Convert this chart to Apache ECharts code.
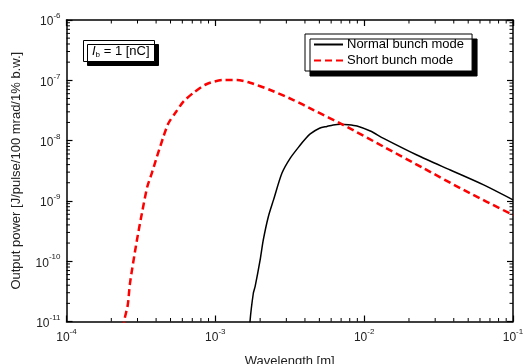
<!DOCTYPE html>
<html>
<head>
<meta charset="utf-8">
<script src="https://cdn.jsdelivr.net/npm/echarts@6/dist/echarts.min.js"></script>
<style>
  html, body { margin: 0; padding: 0; background: #fff; }
  #main { width: 524px; height: 364px; }
</style>
</head>
<body>
<div id="main"></div>
<script>
// wavelength [m] / output power
const normalX = [1.70e-3, 1.71e-3, 1.80e-3, 1.85e-3, 2.00e-3, 2.10e-3, 2.27e-3, 2.46e-3, 2.80e-3, 3.18e-3, 3.72e-3, 4.02e-3, 4.34e-3, 5.01e-3, 5.62e-3, 6.19e-3, 6.91e-3, 7.82e-3, 8.95e-3, 1.10e-2, 1.35e-2, 2.26e-2, 3.79e-2, 6.35e-2, 0.1]
const normalY = [5e-12, 1.0e-11, 2.94e-11, 3.78e-11, 1.05e-10, 2.25e-10, 5.47e-10, 1.04e-9, 2.87e-9, 5.08e-9, 8.45e-9, 1.06e-8, 1.29e-8, 1.60e-8, 1.72e-8, 1.82e-8, 1.87e-8, 1.84e-8, 1.75e-8, 1.44e-8, 1.09e-8, 5.77e-9, 3.25e-9, 1.84e-9, 1.04e-9]

const shortX = [2.40e-4, 2.44e-4, 2.58e-4, 2.67e-4, 2.96e-4, 3.21e-4, 3.49e-4, 3.74e-4, 4.05e-4, 4.48e-4, 4.84e-4, 5.45e-4, 6.10e-4, 7.13e-4, 8.77e-4, 1.13e-3, 1.40e-3, 1.71e-3, 2.34e-3, 3.35e-3, 4.57e-3, 7.27e-3, 1.35e-2, 2.51e-2, 4.66e-2, 0.1]
const shortY = [5e-12, 1.0e-11, 1.88e-11, 4.3e-11, 2.1e-10, 6.2e-10, 1.72e-9, 2.87e-9, 5.4e-9, 1.16e-8, 1.94e-8, 3.01e-8, 4.42e-8, 6.22e-8, 8.69e-8, 1.01e-7, 1.01e-7, 9.12e-8, 6.90e-8, 4.71e-8, 3.21e-8, 1.81e-8, 7.93e-9, 3.47e-9, 1.52e-9, 5.83e-10]

const xDecades = [-4, -3, -2, -1]
const yDecades = [-11, -10, -9, -8, -7, -6]

// minor tick positions (2..9 x 10^n) inside each decade
const minorX = []
xDecades.slice(0, -1).forEach((d) => {
  for (let m = 2; m < 10; m++) minorX.push([m * Math.pow(10, d), 1e-11])
})
const minorY = []
yDecades.slice(0, -1).forEach((d) => {
  for (let m = 2; m < 10; m++) minorY.push([1e-4, m * Math.pow(10, d)])
})

const FONT = 'Liberation Sans'
const black = '#000'

function powLabel(v) {
  return '{b|10}{s|' + Math.round(Math.log10(v)) + '}'
}
const labelRich = {
  b: { fontFamily: FONT, fontSize: 12, color: '#222', lineHeight: 16, verticalAlign: 'bottom' },
  s: { fontFamily: FONT, fontSize: 8, color: '#222', lineHeight: 16, verticalAlign: 'top', padding: [0, 0, 6, 0] },
}

function logAxis(extra) {
  return Object.assign({
    type: 'log',
    logBase: 10,
    axisLine: { show: true, onZero: false, lineStyle: { color: black, width: 1.5 } },
    axisTick: { show: true, inside: true, length: 6, lineStyle: { color: black, width: 1.2 } },
    splitLine: { show: false },
    minorTick: { show: false },
  }, extra)
}

const chart = echarts.init(document.getElementById('main'), null, { renderer: 'canvas' })

chart.setOption({
  animation: false,
  backgroundColor: '#fff',
  grid: { left: 66.5, right: 11, top: 20, bottom: 42.5, containLabel: false, outerBoundsMode: 'none' },
  title: {
    text: '{i|I}{sub|b}{t| = 1 [nC]}',
    left: 83,
    top: 40,
    padding: [3, 5, 3, 9],
    borderColor: black,
    borderWidth: 1,
    backgroundColor: '#fff',
    shadowColor: black,
    shadowBlur: 0,
    shadowOffsetX: 4,
    shadowOffsetY: 4,
    textStyle: {
      fontWeight: 'normal',
      rich: {
        i: { fontFamily: FONT, fontSize: 13, fontStyle: 'italic', fontWeight: 'normal', color: black, lineHeight: 16 },
        sub: { fontFamily: FONT, fontSize: 8, fontWeight: 'normal', color: black, lineHeight: 16, verticalAlign: 'bottom', padding: [8, 0, 0, 0] },
        t: { fontFamily: FONT, fontSize: 13, fontWeight: 'normal', color: black, lineHeight: 16 },
      },
    },
  },
  legend: {
    orient: 'vertical',
    left: 305,
    top: 34,
    padding: [4, 8, 4, 8],
    itemGap: 3,
    itemWidth: 29,
    itemHeight: 14,
    borderColor: black,
    borderWidth: 1,
    backgroundColor: '#fff',
    shadowColor: black,
    shadowBlur: 0,
    shadowOffsetX: 5,
    shadowOffsetY: 5,
    itemStyle: { opacity: 0 },
    textStyle: { fontFamily: FONT, fontSize: 13, color: black, padding: [0, 0, 0, -1] },
    data: ['Normal bunch mode', 'Short bunch mode'],
  },
  xAxis: [
    logAxis({
      position: 'bottom',
      min: 1e-4,
      max: 1e-1,
      name: 'Wavelength [m]',
      nameLocation: 'middle',
      nameGap: 33,
      nameTextStyle: { fontFamily: FONT, fontSize: 13, color: '#222' },
      axisLabel: { margin: 6, formatter: powLabel, rich: labelRich },
    }),
    logAxis({
      position: 'top',
      min: 1e-4,
      max: 1e-1,
      axisLabel: { show: false },
    }),
  ],
  yAxis: [
    logAxis({
      position: 'left',
      min: 1e-11,
      max: 1e-6,
      name: 'Output power [J/pulse/100 mrad/1% b.w.]',
      nameLocation: 'middle',
      nameGap: 44,
      nameTextStyle: { fontFamily: FONT, fontSize: 13, color: '#222' },
      axisLabel: { margin: 6, formatter: powLabel, rich: labelRich },
    }),
    logAxis({
      position: 'right',
      min: 1e-11,
      max: 1e-6,
      axisLabel: { show: false },
    }),
  ],
  series: [
    {
      name: 'Normal bunch mode',
      type: 'line',
      symbol: 'none',
      smooth: 0.25,
      clip: true,
      color: black,
      lineStyle: { color: black, width: 1.5 },
      data: normalX.map((x, i) => [x, normalY[i]]),
    },
    {
      name: 'Short bunch mode',
      type: 'line',
      symbol: 'none',
      smooth: 0.25,
      clip: true,
      color: '#ff0000',
      lineStyle: { color: '#ff0000', width: 2.5, type: [7, 4] },
      data: shortX.map((x, i) => [x, shortY[i]]),
    },
    {
      type: 'custom',
      silent: true,
      clip: false,
      data: minorX,
      renderItem(params, api) {
        const p = api.coord([api.value(0), api.value(1)])
        const cs = params.coordSys
        return {
          type: 'group',
          children: [
            { type: 'line', shape: { x1: p[0], y1: cs.y + cs.height, x2: p[0], y2: cs.y + cs.height - 3.5 }, style: { stroke: black, lineWidth: 1 } },
            { type: 'line', shape: { x1: p[0], y1: cs.y, x2: p[0], y2: cs.y + 3.5 }, style: { stroke: black, lineWidth: 1 } },
          ],
        }
      },
    },
    {
      type: 'custom',
      silent: true,
      clip: false,
      data: minorY,
      renderItem(params, api) {
        const p = api.coord([api.value(0), api.value(1)])
        const cs = params.coordSys
        return {
          type: 'group',
          children: [
            { type: 'line', shape: { x1: cs.x, y1: p[1], x2: cs.x + 3.5, y2: p[1] }, style: { stroke: black, lineWidth: 1 } },
            { type: 'line', shape: { x1: cs.x + cs.width, y1: p[1], x2: cs.x + cs.width - 3.5, y2: p[1] }, style: { stroke: black, lineWidth: 1 } },
          ],
        }
      },
    },
  ],
})
</script>
</body>
</html>
